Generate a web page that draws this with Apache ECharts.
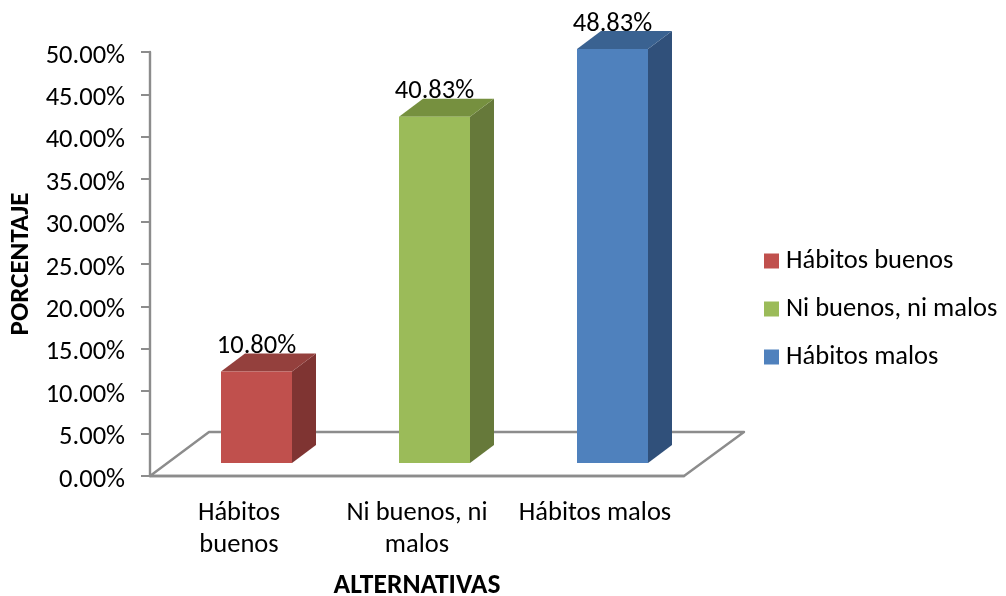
<!DOCTYPE html>
<html><head><meta charset="utf-8">
<style>html,body{margin:0;padding:0;background:#fff}#c{width:1006px;height:596px}</style>
<script src="https://cdn.jsdelivr.net/npm/echarts@6/dist/echarts.min.js"></script>
</head><body><div id="c"></div>
<script>
const categories = ['Hábitos\nbuenos', 'Ni buenos, ni\nmalos', 'Hábitos malos'];
const seriesNames = ['Hábitos buenos', 'Ni buenos, ni malos', 'Hábitos malos'];
const seriesValues = [10.80, 40.83, 48.83];
const valueLabels = ['10.80%', '40.83%', '48.83%'];
const faceColors = ['#C0504D', '#9BBB59', '#4F81BD'];
const sideColors = ['#7F3432', '#66793A', '#30507A'];
const topColors = ['#94403D', '#76903F', '#3A6291'];
const yMax = 50, yStep = 5;

const FONT = 'Carlito, Lato, "Open Sans", "Noto Sans", sans-serif';
const LINE = '#8c8c8c';
const chart = echarts.init(document.getElementById('c'), null, {renderer: 'canvas'});

function barRender(i) {
  return function (params, api) {
    if (params.dataIndex !== i) return null;
    const base = api.coord([i, 0]);
    const top = api.coord([i, api.value(1)]);
    const dx = 17.5, dy = -13, w = 71, ox = 24, oy = -18;
    const l = base[0] + dx - w / 2, r = l + w, b = base[1] + dy, t = top[1] + dy;
    return {type: 'group', children: [
      {type: 'polygon', shape: {points: [[r, b], [r + ox, b + oy], [r + ox, t + oy], [r, t]]}, style: {fill: sideColors[i]}},
      {type: 'polygon', shape: {points: [[l, t], [r, t], [r + ox, t + oy], [l + ox, t + oy]]}, style: {fill: topColors[i]}},
      {type: 'rect', shape: {x: l, y: t, width: w, height: b - t}, style: {fill: faceColors[i]}},
      {type: 'text', z2: 10, style: {x: l + w / 2, y: t - 25, text: valueLabels[i], fill: '#000', font: '26.5px ' + FONT, align: 'center', verticalAlign: 'middle'}}
    ]};
  };
}
function floorRender(params, api) {
  if (params.dataIndex !== 0) return null;
  const cs = params.coordSys;
  const x0 = cs.x, x1 = cs.x + cs.width, y0 = cs.y + cs.height;
  return {type: 'polygon', z2: -1, shape: {points: [[x0, y0], [x0 + 59, y0 - 44], [x1 + 60, y0 - 44], [x1, y0]]},
    style: {fill: 'none', stroke: LINE, lineWidth: 2.4, lineJoin: 'round'}};
}
const rows = categories.map((c, i) => [i, seriesValues[i]]);

chart.setOption({
  animation: false,
  backgroundColor: '#fff',
  textStyle: {fontFamily: FONT},
  grid: {left: 150, right: 322, top: 52, bottom: 120, outerBoundsMode: 'none'},
  legend: {
    orient: 'vertical', left: 764, top: 244, padding: 0, itemWidth: 15, itemHeight: 15, itemGap: 14,
    icon: 'rect', data: seriesNames,
    textStyle: {fontSize: 26.5, lineHeight: 30, color: '#000', fontFamily: FONT, padding: [4, 0, 0, 2]}
  },
  xAxis: {
    type: 'category', data: categories, name: 'ALTERNATIVAS', nameLocation: 'middle', nameGap: 95,
    nameTextStyle: {fontSize: 27.5, fontWeight: 'bold', color: '#000', fontFamily: FONT, lineHeight: 30},
    axisTick: {show: false},
    axisLine: {lineStyle: {color: LINE, width: 2.4}},
    axisLabel: {fontSize: 26.5, color: '#000', lineHeight: 32, margin: 21, interval: 0, fontFamily: FONT}
  },
  yAxis: {
    type: 'value', min: 0, max: yMax, interval: yStep, name: 'PORCENTAJE', nameLocation: 'middle', nameGap: 112,
    nameTextStyle: {fontSize: 27, fontWeight: 'bold', color: '#000', fontFamily: FONT},
    splitLine: {show: false},
    axisLine: {show: true, lineStyle: {color: LINE, width: 2.4}},
    axisTick: {show: true, length: 9, lineStyle: {color: LINE, width: 2}},
    axisLabel: {fontSize: 26.5, color: '#000', margin: 25, verticalAlign: 'top', lineHeight: 8, formatter: v => v.toFixed(2) + '%', fontFamily: FONT}
  },
  series: [
    {type: 'custom', name: '_floor', silent: true, z: 1, renderItem: floorRender, data: rows},
    ...seriesNames.map((n, i) => ({
      type: 'custom', name: n, z: 2, renderItem: barRender(i), data: rows,
      encode: {x: 0, y: 1}, itemStyle: {color: faceColors[i]}
    }))
  ]
});
</script></body></html>
